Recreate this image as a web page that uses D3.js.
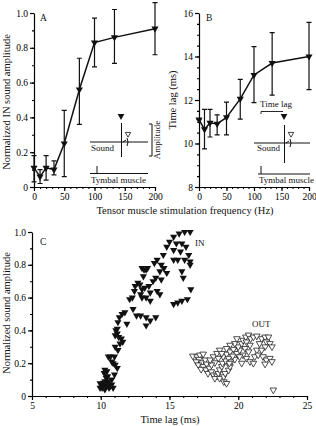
<!DOCTYPE html>
<html>
<head>
<meta charset="utf-8">
<script src="https://cdn.jsdelivr.net/npm/d3@7"></script>
<style>
  body { margin: 0; background: #fff; }
  svg { display: block; font-family: 'Liberation Serif', 'Times New Roman', serif; }
</style>
</head>
<body>
<div id="chart"></div>
<script>
// stimulation frequencies (Hz) for panels A and B
const freqs = [0, 10, 20, 33, 50, 75, 100, 133, 200]

// panel A: normalized IN amplitude, with error bar low/high
const ampMean = [0.11, 0.06, 0.11, 0.10, 0.25, 0.56, 0.83, 0.86, 0.91]
const ampLow = [0.03, 0.02, 0.04, 0.07, 0.06, 0.36, 0.69, 0.71, 0.76]
const ampHigh = [0.18, 0.10, 0.18, 0.15, 0.44, 0.74, 0.97, 1.02, 1.06]

// panel B: time lag (ms)
const lagMean = [11.1, 10.65, 10.95, 10.9, 11.2, 12.05, 13.15, 13.7, 14.0]
const lagLow = [11.1, 9.75, 10.3, 10.4, 10.4, 11.12, 11.88, 12.22, 12.48]
const lagHigh = [11.1, 11.57, 11.57, 11.32, 11.9, 12.95, 14.45, 15.1, 15.57]

// panel C: [time lag ms, normalized amplitude]
const inPoints = [
  [15.7, 0.99], [16.1, 1.0], [16.5, 1.0], [15.3, 0.97], [15.9, 0.93], [15.0, 0.94],
  [15.5, 0.93], [14.8, 0.91], [16.2, 0.91], [15.3, 0.89], [14.55, 0.86], [15.8, 0.88],
  [16.4, 0.86], [16.1, 0.83], [15.3, 0.83], [15.6, 0.83], [14.1, 0.83], [13.9, 0.81],
  [14.4, 0.80], [14.6, 0.78], [16.5, 0.82], [16.5, 0.80], [13.4, 0.78], [13.0, 0.78],
  [13.15, 0.77], [13.3, 0.77], [14.3, 0.76], [14.8, 0.75], [15.9, 0.76], [16.0, 0.72],
  [13.1, 0.73], [14.0, 0.72], [13.8, 0.70], [14.4, 0.71], [12.7, 0.69], [12.85, 0.68],
  [13.5, 0.67], [12.5, 0.67], [13.2, 0.66], [13.0, 0.65], [14.1, 0.64], [12.45, 0.64],
  [13.6, 0.63], [16.55, 0.65], [14.3, 0.62], [12.9, 0.62], [12.3, 0.60], [13.0, 0.60],
  [13.3, 0.60], [13.6, 0.58], [12.1, 0.59], [16.3, 0.59], [15.9, 0.58], [15.6, 0.57],
  [15.3, 0.56], [12.35, 0.53], [11.75, 0.51], [11.55, 0.50], [12.6, 0.49], [12.9, 0.49],
  [13.3, 0.48], [14.0, 0.48], [13.3, 0.43], [13.6, 0.46], [11.35, 0.48], [11.25, 0.45],
  [11.9, 0.44], [11.2, 0.41], [11.1, 0.40], [11.2, 0.38], [11.05, 0.37], [11.3, 0.36],
  [11.5, 0.35], [11.6, 0.33], [11.4, 0.32], [11.05, 0.30], [11.25, 0.28], [10.7, 0.24],
  [10.55, 0.24], [11.0, 0.24], [10.8, 0.21], [10.9, 0.20], [11.05, 0.19], [11.2, 0.17],
  [10.3, 0.16], [10.45, 0.15], [10.25, 0.14], [10.5, 0.12], [11.0, 0.13], [10.8, 0.10],
  [10.3, 0.09], [9.95, 0.077], [10.15, 0.06], [10.4, 0.06], [10.6, 0.05], [10.1, 0.05],
  [10.3, 0.04], [10.9, 0.05], [10.7, 0.06], [10.5, 0.08], [9.95, 0.05], [10.2, 0.08],
  [10.8, 0.07], [10.4, 0.11], [10.6, 0.09]
]
const outPoints = [
  [16.7, 0.244], [17.0, 0.24], [17.2, 0.25], [17.45, 0.256], [17.15, 0.224], [16.95, 0.209],
  [17.35, 0.203], [17.6, 0.22], [17.1, 0.19], [17.45, 0.18], [17.7, 0.195], [17.3, 0.163],
  [17.65, 0.16], [17.9, 0.17], [17.8, 0.138], [18.05, 0.148], [18.2, 0.128], [18.45, 0.122],
  [18.55, 0.138], [18.3, 0.108], [18.65, 0.16], [18.8, 0.18], [18.95, 0.087], [19.15, 0.077],
  [18.65, 0.108], [18.95, 0.118], [19.05, 0.138], [19.3, 0.158], [19.4, 0.179], [18.85, 0.2],
  [19.1, 0.215], [18.9, 0.24], [19.15, 0.256], [19.4, 0.27], [19.65, 0.285], [19.3, 0.23],
  [19.5, 0.209], [19.75, 0.224], [19.6, 0.244], [19.9, 0.26], [20.1, 0.28], [20.0, 0.30],
  [20.25, 0.32], [20.35, 0.34], [20.55, 0.36], [20.75, 0.372], [20.9, 0.35], [20.6, 0.33],
  [20.85, 0.31], [20.5, 0.29], [20.75, 0.27], [20.35, 0.25], [20.6, 0.23], [20.85, 0.21],
  [21.1, 0.2], [21.2, 0.24], [21.35, 0.28], [21.55, 0.32], [21.1, 0.36], [21.35, 0.366],
  [21.7, 0.35], [21.95, 0.36], [22.2, 0.36], [22.05, 0.33], [22.3, 0.32], [22.45, 0.30],
  [21.95, 0.30], [21.7, 0.28], [21.45, 0.25], [21.8, 0.24], [22.05, 0.22], [22.3, 0.23],
  [22.45, 0.21], [21.95, 0.195], [22.55, 0.037], [18.2, 0.24], [18.45, 0.26], [18.65, 0.28],
  [18.8, 0.26], [18.55, 0.23], [18.3, 0.203], [18.05, 0.19], [17.95, 0.22], [19.75, 0.32],
  [19.4, 0.31], [19.15, 0.29], [19.9, 0.35], [20.1, 0.24], [20.25, 0.2], [19.35, 0.2]
]

const W = 316
const H = 426
const svg = d3.select('#chart').append('svg')
  .attr('width', W)
  .attr('height', H)

const tickFont = 9.5
const titleFont = 10.5
const insetFont = 9
const tri = d3.symbol().type(d3.symbolTriangle)

// one axis with labelled major ticks plus unlabeled minor ticks
const drawAxis = (axisFn, scale, majors, minors, fmt, transform) => {
  svg.append('g')
    .attr('transform', transform)
    .call(axisFn(scale).tickValues(minors).tickSize(2).tickSizeOuter(0).tickFormat(''))
    .call(g => g.select('.domain').remove())
    .call(g => g.selectAll('line').attr('stroke-width', 1.1))
  svg.append('g')
    .attr('transform', transform)
    .call(axisFn(scale).tickValues(majors).tickSize(4).tickSizeOuter(0).tickPadding(2).tickFormat(fmt))
    .attr('font-family', 'Liberation Serif, serif')
    .attr('font-size', tickFont)
    .call(g => g.selectAll('line, path').attr('stroke-width', 1.2))
}

const fmtAmp = d => d === 0 ? '0' : d3.format('.1f')(d)

// ---------- panel A ----------
const xA = d3.scaleLinear().domain([0, 200]).range([34, 155])
const yA = d3.scaleLinear().domain([0, 1]).range([187, 13])
drawAxis(d3.axisLeft, yA, d3.range(0, 1.01, 0.2), d3.range(0, 1.01, 0.1), fmtAmp, `translate(${xA(0)},0)`)
drawAxis(d3.axisBottom, xA, [0, 50, 100, 150, 200], d3.range(0, 201, 10), d3.format('d'), `translate(0,${yA(0)})`)

// ---------- panel B ----------
const xB = d3.scaleLinear().domain([0, 200]).range([199, 309])
const yB = d3.scaleLinear().domain([8, 16]).range([187, 13])
drawAxis(d3.axisLeft, yB, [8, 10, 12, 14, 16], d3.range(8, 16.01, 0.5), d3.format('d'), `translate(${xB(0)},0)`)
drawAxis(d3.axisBottom, xB, [0, 50, 100, 150, 200], d3.range(0, 201, 10), d3.format('d'), `translate(0,${yB(8)})`)

const drawSeries = (x, y, mean, low, high) => {
  const g = svg.append('g')
  const rows = freqs.map((f, i) => ({ f, m: mean[i], lo: low[i], hi: high[i] }))
  g.selectAll('.err').data(rows).enter().append('path')
    .attr('d', d => {
      const cx = x(d.f)
      return `M${cx},${y(d.lo)}V${y(d.hi)}M${cx - 2.5},${y(d.lo)}H${cx + 2.5}M${cx - 2.5},${y(d.hi)}H${cx + 2.5}`
    })
    .attr('stroke', '#111')
    .attr('stroke-width', 1.2)
    .attr('fill', 'none')
  g.append('path')
    .datum(rows)
    .attr('d', d3.line().x(d => x(d.f)).y(d => y(d.m)))
    .attr('stroke', '#111')
    .attr('stroke-width', 1.5)
    .attr('fill', 'none')
  g.selectAll('.pt').data(rows).enter().append('path')
    .attr('d', tri.size(22))
    .attr('transform', d => `translate(${x(d.f)},${y(d.m)}) rotate(180)`)
    .attr('fill', '#111')
}
drawSeries(xA, yA, ampMean, ampLow, ampHigh)
drawSeries(xB, yB, lagMean, lagLow, lagHigh)

// ---------- panel C ----------
const xC = d3.scaleLinear().domain([5, 25]).range([32, 307])
const yC = d3.scaleLinear().domain([0, 1]).range([396, 232])
drawAxis(d3.axisLeft, yC, d3.range(0, 1.01, 0.2), d3.range(0, 1.01, 0.1), fmtAmp, `translate(${xC(5)},0)`)
drawAxis(d3.axisBottom, xC, [5, 10, 15, 20, 25], d3.range(5, 25.01, 1), d3.format('d'), `translate(0,${yC(0)})`)

svg.append('g').selectAll('path').data(outPoints).enter().append('path')
  .attr('d', tri.size(19))
  .attr('transform', d => `translate(${xC(d[0])},${yC(d[1])}) rotate(180)`)
  .attr('fill', '#fff')
  .attr('stroke', '#222')
  .attr('stroke-width', 0.8)
svg.append('g').selectAll('path').data(inPoints).enter().append('path')
  .attr('d', tri.size(22))
  .attr('transform', d => `translate(${xC(d[0])},${yC(d[1])}) rotate(180)`)
  .attr('fill', '#111')

// ---------- text ----------
const label = (x, y, t, opts = {}) => svg.append('text')
  .attr('x', x)
  .attr('y', y)
  .attr('font-size', opts.size || titleFont)
  .attr('text-anchor', opts.anchor || 'start')
  .attr('transform', opts.rotate ? `rotate(-90,${x},${y})` : null)
  .attr('fill', '#111')
  .text(t)

label(40, 21, 'A', { size: 9.5 })
label(206, 21, 'B', { size: 9.5 })
label(40, 245, 'C', { size: 9.5 })
label(10, 102, 'Normalized IN sound amplitude', { anchor: 'middle', rotate: true })
label(176, 100, 'Time lag (ms)', { anchor: 'middle', rotate: true })
label(185, 214, 'Tensor muscle stimulation frequency (Hz)', { anchor: 'middle' })
label(10, 313, 'Normalized sound amplitude', { anchor: 'middle', rotate: true })
label(170, 423, 'Time lag (ms)', { anchor: 'middle' })
label(195, 246, 'IN', { size: insetFont })
label(252, 327, 'OUT', { size: insetFont })

// ---------- inset schematics ----------
const ink = (d, w = 1) => svg.append('path')
  .attr('d', d)
  .attr('stroke', '#111')
  .attr('stroke-width', w)
  .attr('fill', 'none')
const marker = (x, y, filled) => svg.append('path')
  .attr('d', tri.size(filled ? 20 : 13))
  .attr('transform', `translate(${x},${y}) rotate(180)`)
  .attr('fill', filled ? '#111' : '#fff')
  .attr('stroke', '#111')
  .attr('stroke-width', filled ? 0 : 0.8)

// inset A
ink('M90,142H148')
ink('M121.5,123V157')
ink('M127,138Q129,142 127,146')
ink('M123,142L126,140')
marker(121, 116, true)
marker(128, 134, false)
ink('M149,124H152V156H149')
label(91, 151, 'Sound', { size: insetFont })
label(160, 140, 'Amplitude', { size: insetFont, anchor: 'middle', rotate: true })
ink('M90,173.5H148')
ink('M97,166V173.5')
label(91, 183, 'Tymbal muscle', { size: insetFont })

// inset B
label(260, 107, 'Time lag', { size: insetFont })
ink('M261,114V111.5H283', 0.9)
marker(284, 116, true)
ink('M254,143H310')
ink('M284.5,125V163')
ink('M290,139Q292,143 290,147')
ink('M286,143L289,141')
marker(291, 134, false)
label(257, 151, 'Sound', { size: insetFont })
ink('M258,174H310')
ink('M261,166V174')
label(259, 183, 'Tymbal muscle', { size: insetFont })
</script>
</body>
</html>
